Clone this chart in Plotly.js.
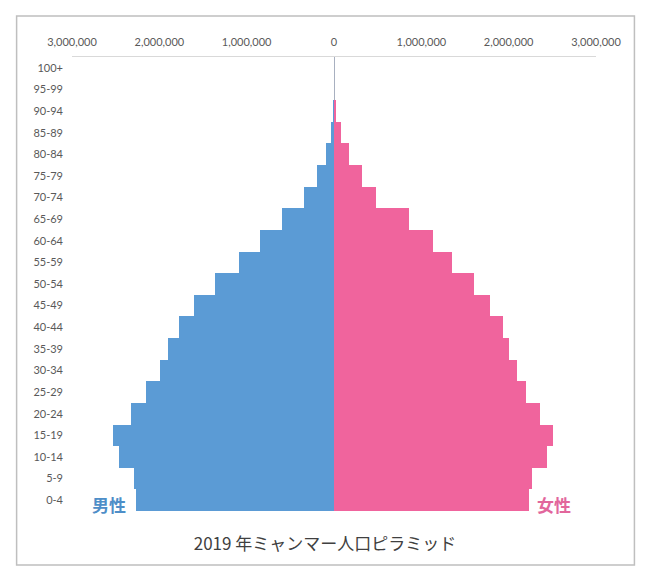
<!DOCTYPE html>
<html>
<head>
<meta charset="utf-8">
<script src="https://cdn.plot.ly/plotly-3.0.1.min.js"></script>
<style>html,body{margin:0;padding:0;background:#fff;}#chart{width:650px;height:581px;}</style>
</head>
<body>
<div id="chart"></div>
<script>
// Age groups (bottom to top)
const ages = ['0-4','5-9','10-14','15-19','20-24','25-29','30-34','35-39','40-44','45-49','50-54','55-59','60-64','65-69','70-74','75-79','80-84','85-89','90-94','95-99','100+'];
// Male population
const male = [2270000,2290000,2460000,2530000,2320000,2150000,1990000,1905000,1780000,1600000,1360000,1090000,850000,600000,340000,200000,90000,35000,10000,2000,300];
// Female population
const female = [2230000,2270000,2440000,2510000,2360000,2200000,2090000,2000000,1935000,1790000,1600000,1350000,1130000,860000,480000,320000,175000,80000,20000,5000,1000];
// Axis ticks
const tickVals = [-3000000,-2000000,-1000000,0,1000000,2000000,3000000];
const tickText = ['3,000,000','2,000,000','1,000,000','0','1,000,000','2,000,000','3,000,000'];
const maleLabel = '男性';
const femaleLabel = '女性';
const titleText = '2019 年ミャンマー人口ピラミッド';

const W = 650, H = 581;
const mL = 71.5, mR = 53.5, mT = 57, mB = 70;
const pw = W - mL - mR, ph = H - mT - mB;
const px = x => (x - mL) / pw;
const py = y => (H - mB - y) / ph;

const latin = 'Lato, "Open Sans", sans-serif';
const cjk = '"Noto Sans CJK JP", sans-serif';

const traces = [
  {type:'bar', orientation:'h', y:ages, x:male.map(v=>-v), name:maleLabel,
   marker:{color:'#5b9bd5', line:{width:0}}, hoverinfo:'skip'},
  {type:'bar', orientation:'h', y:ages, x:female, name:femaleLabel,
   marker:{color:'#f0649d', line:{width:0}}, hoverinfo:'skip'}
];

const layout = {
  width:W, height:H,
  margin:{l:mL, r:mR, t:mT, b:mB, pad:0},
  paper_bgcolor:'#fff', plot_bgcolor:'#fff',
  barmode:'relative', bargap:0,
  showlegend:false,
  font:{family:latin, color:'#595959', size:11},
  title:{text:titleText, font:{family:cjk, size:17, color:'#404040'},
         x:325/W, xref:'container', xanchor:'center',
         y:1-544/H, yref:'container', yanchor:'middle'},
  xaxis:{side:'top', range:[-3000000,3000000], tickvals:tickVals, ticktext:tickText,
         showgrid:false, showline:true, linecolor:'#d9d9d9', linewidth:1,
         zeroline:true, zerolinecolor:'#a8b0c0', zerolinewidth:1,
         ticks:'', ticklabelstandoff:6, tickfont:{family:latin, size:11, color:'#595959'},
         fixedrange:true},
  yaxis:{type:'category', categoryorder:'array', categoryarray:ages,
         showgrid:false, showline:false, zeroline:false, ticks:'',
         ticklabelstandoff:8, tickfont:{family:latin, size:11, color:'#595959'},
         fixedrange:true},
  shapes:[
    {type:'rect', xref:'paper', yref:'paper', x0:px(16), x1:px(635), y0:py(565), y1:py(16),
     line:{color:'#bfbfbf', width:1.5}, fillcolor:'rgba(0,0,0,0)', layer:'below'}
  ],
  annotations:[
    {text:maleLabel, xref:'paper', yref:'paper', x:px(109), y:py(504), showarrow:false,
     xanchor:'center', yanchor:'middle', font:{family:cjk, size:17, color:'#4e8ec8', weight:'bold'}},
    {text:femaleLabel, xref:'paper', yref:'paper', x:px(554), y:py(504), showarrow:false,
     xanchor:'center', yanchor:'middle', font:{family:cjk, size:17, color:'#e2669c', weight:'bold'}}
  ]
};

Plotly.newPlot('chart', traces, layout, {displayModeBar:false, staticPlot:true});
</script>
</body>
</html>
